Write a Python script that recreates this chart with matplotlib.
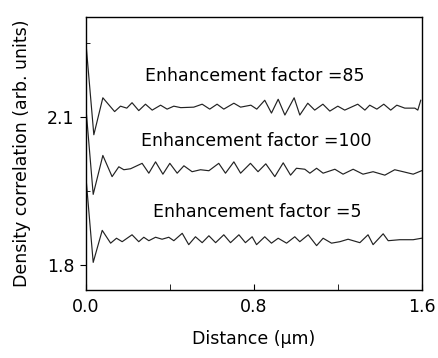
import numpy as np
import matplotlib
matplotlib.use("Agg")
import matplotlib.pyplot as plt
from matplotlib.ticker import FixedLocator

plt.rcParams['font.family'] = ['DejaVu Sans']

# enhancement factor = 85 (top curve)
x_85 = [0.000, 0.038, 0.081, 0.137, 0.165, 0.195, 0.220, 0.252, 0.284, 0.316,
        0.356, 0.387, 0.419, 0.452, 0.514, 0.554, 0.590, 0.625, 0.657, 0.705,
        0.737, 0.786, 0.814, 0.852, 0.884, 0.916, 0.948, 0.992, 1.019, 1.057,
        1.090, 1.129, 1.162, 1.200, 1.233, 1.295, 1.329, 1.352, 1.386, 1.419,
        1.452, 1.481, 1.519, 1.567, 1.581, 1.595]
y_85 = [2.252, 2.064, 2.139, 2.111, 2.122, 2.118, 2.129, 2.113, 2.126, 2.114,
        2.124, 2.116, 2.122, 2.119, 2.120, 2.126, 2.116, 2.126, 2.116, 2.128,
        2.120, 2.124, 2.116, 2.134, 2.108, 2.136, 2.104, 2.139, 2.104, 2.128,
        2.114, 2.126, 2.112, 2.122, 2.114, 2.126, 2.114, 2.124, 2.116, 2.126,
        2.114, 2.124, 2.118, 2.118, 2.114, 2.134]

# enhancement factor = 100 (middle curve)
x_100 = [0.000, 0.035, 0.081, 0.125, 0.157, 0.181, 0.213, 0.268, 0.300, 0.332,
         0.367, 0.400, 0.435, 0.467, 0.506, 0.546, 0.586, 0.633, 0.665, 0.705,
         0.737, 0.784, 0.820, 0.857, 0.900, 0.940, 0.975, 1.003, 1.043, 1.067,
         1.099, 1.130, 1.186, 1.225, 1.273, 1.320, 1.368, 1.424, 1.471, 1.511,
         1.559, 1.599]
y_100 = [2.120, 1.943, 2.022, 1.979, 1.999, 1.993, 1.995, 2.006, 1.986, 2.009,
         1.984, 2.006, 1.986, 2.001, 1.989, 1.993, 1.991, 2.006, 1.986, 2.009,
         1.986, 2.006, 1.989, 2.005, 1.979, 2.007, 1.982, 1.996, 1.994, 1.986,
         1.996, 1.986, 1.994, 1.984, 1.994, 1.984, 1.989, 1.982, 1.993, 1.989,
         1.984, 1.991]

# enhancement factor = 5 (bottom curve)
x_5 = [0.000, 0.035, 0.078, 0.118, 0.146, 0.173, 0.220, 0.252, 0.276, 0.300,
       0.332, 0.363, 0.395, 0.419, 0.459, 0.490, 0.522, 0.554, 0.586, 0.618,
       0.657, 0.689, 0.729, 0.760, 0.792, 0.813, 0.852, 0.884, 0.916, 0.956,
       0.995, 1.019, 1.059, 1.099, 1.130, 1.170, 1.210, 1.249, 1.305, 1.344,
       1.368, 1.416, 1.440, 1.495, 1.559, 1.599]
y_5 = [1.980, 1.805, 1.870, 1.844, 1.854, 1.847, 1.861, 1.847, 1.856, 1.849,
       1.856, 1.852, 1.856, 1.849, 1.864, 1.841, 1.857, 1.845, 1.859, 1.845,
       1.861, 1.845, 1.861, 1.845, 1.857, 1.841, 1.857, 1.844, 1.854, 1.844,
       1.857, 1.847, 1.861, 1.839, 1.854, 1.844, 1.847, 1.852, 1.845, 1.861,
       1.841, 1.863, 1.849, 1.851, 1.851, 1.854]

labels = ["Enhancement factor =85", "Enhancement factor =100", "Enhancement factor =5"]

fig = plt.figure(figsize=(4.38, 3.58), dpi=100)
ax = fig.add_axes([0.196, 0.19, 0.767, 0.7626])

for xs, ys in [(x_85, y_85), (x_100, y_100), (x_5, y_5)]:
    ax.plot(xs, ys, color="#222222", lw=0.85, solid_joinstyle="round")

fs = 12.5
ax.text(0.281, 2.183, labels[0], fontsize=fs, va="center")
ax.text(0.262, 2.051, labels[1], fontsize=fs, va="center")
ax.text(0.319, 1.907, labels[2], fontsize=fs, va="center")

ax.set_xlim(0, 1.6)
ax.set_ylim(1.749, 2.303)
ax.set_xticks([0.0, 0.8, 1.6])
ax.set_xticklabels(["0.0", "0.8", "1.6"])
ax.set_yticks([1.8, 2.1])
ax.set_yticklabels(["1.8", "2.1"])
ax.xaxis.set_minor_locator(FixedLocator([0.4, 1.2]))
ax.yaxis.set_minor_locator(FixedLocator([1.95, 2.25]))
ax.tick_params(axis="x", which="both", direction="in", length=4, labelsize=fs, pad=6)
ax.tick_params(axis="y", which="major", direction="out", length=4, labelsize=fs, pad=4)
ax.tick_params(axis="y", which="minor", direction="in", length=3)

for s in ax.spines.values():
    s.set_linewidth(1.0)

ax.set_xlabel("Distance (\u00b5m)", fontsize=fs, labelpad=10)
ax.set_ylabel("Density correlation (arb. units)", fontsize=fs, labelpad=12)

fig.savefig("out.png", dpi=100)
